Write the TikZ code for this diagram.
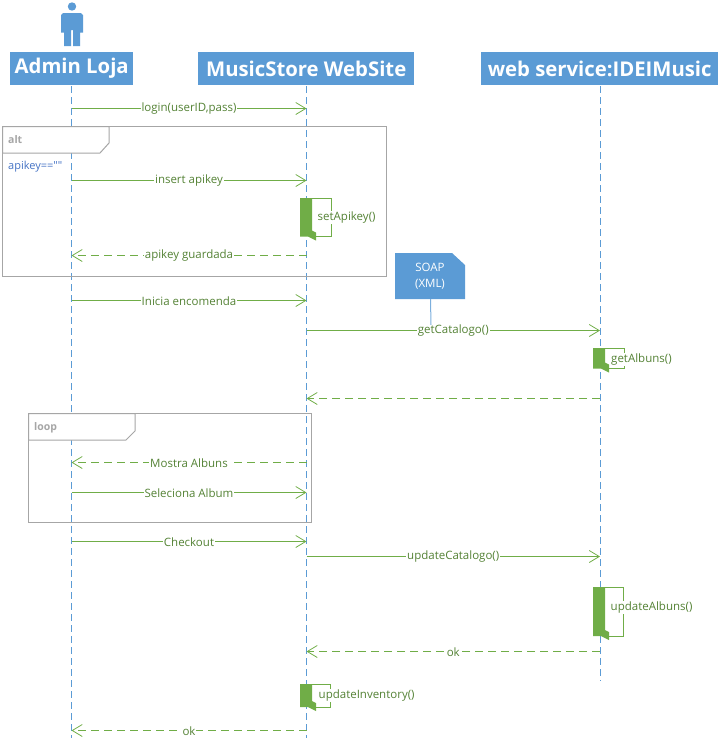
\documentclass[tikz,border=0pt]{standalone}
\usepackage{fontspec}
\setmainfont{Open Sans}
\newfontfamily\rawfont[Ligatures=Discretionary]{Open Sans}
\usetikzlibrary{arrows.meta}
\definecolor{uBlue}{HTML}{5B9BD5}
\definecolor{uGreen}{HTML}{70AD47}
\definecolor{uText}{HTML}{548235}
\definecolor{uFrame}{HTML}{A6A6A6}
\definecolor{uKey}{HTML}{4472C4}
\tikzset{
  head/.style={fill=uBlue,text=white,font=\fontsize{20.3}{24}\selectfont\bfseries,inner sep=0pt,minimum height=33pt,anchor=north west},
  lifeline/.style={draw=uBlue,line width=1pt,dash pattern=on 7pt off 4pt},
  msgline/.style={draw=uGreen,line width=1pt,-{Straight Barb[length=10pt,width=12pt,line width=0.8pt]}},
  retline/.style={msgline,dash pattern=on 8pt off 5pt},
  msglabel/.style={fill=white,text=uText,font=\fontsize{11.5}{13}\selectfont,inner xsep=1pt,inner ysep=0.5pt},
  framebox/.style={draw=uFrame,line width=1pt},
  frametab/.style={draw=uFrame,line width=1pt,fill=white},
  frametext/.style={text=uFrame,font=\fontsize{10.5}{12}\selectfont\bfseries,inner sep=0pt,anchor=west},
  selfline/.style={draw=uGreen,line width=1pt},
  selfbar/.style={fill=uGreen},
  blueshape/.style={fill=uBlue},
}
\newcommand{\mymsg}[6]{% name, x1, x2, y, style, label
  \coordinate (#1a) at (#2,#4);
  \coordinate (#1b) at (#3,#4);
  \draw[#5] (#1a) -- node[msglabel] {#6} (#1b);
}
\newcommand{\myself}[5]{% barx, top, bottom, right, name
  \coordinate (#5a) at ({#1+12},#2);
  \coordinate (#5b) at (#4,#2);
  \coordinate (#5c) at (#4,#3);
  \coordinate (#5d) at ({#1+14},#3);
  \draw[selfline] (#5a) -- (#5b) -- (#5c) -- (#5d);
  \fill[selfbar] (#1,#2) -- ({#1+12},#2) -- ({#1+12},{#3-6}) -- ({#1+16},{#3-4}) -- ({#1+16},{#3+4}) -- ({#1+8},#3) -- (#1,#3) -- cycle;
}
\begin{document}
\begin{tikzpicture}[x=1pt,y=-1pt]
\useasboundingbox (0,0) rectangle (724,745);
% actor
\fill[blueshape] (72,6.5) circle (4.2);
\fill[blueshape] (63,13) -- (81,13) -- (83,15) -- (83,32.5) -- (80,32.5) -- (80,46) -- (73,46) -- (73,30) -- (71,30) -- (71,46) -- (64,46) -- (64,32.5) -- (61,32.5) -- (61,15) -- cycle;
% heads
\node[head,minimum width=123pt] (admin) at (10,52) {Admin Loja};
\node[head,minimum width=216pt] (store) at (198,52) {MusicStore WebSite};
\node[head,minimum width=237pt] (ws) at (481,52) {web service:IDEIMusic};
% lifelines
\coordinate (adminEnd) at (71.5,738);
\coordinate (storeEnd) at (306.5,738);
\coordinate (wsEnd) at (600,681);
\coordinate (adminTop) at (71.5,86);
\coordinate (storeTop) at (306.5,86);
\coordinate (wsTop) at (600,86);
\draw[lifeline] (adminTop) -- (adminEnd);
\draw[lifeline] (storeTop) -- (storeEnd);
\draw[lifeline] (wsTop) -- (wsEnd);
% frames
\draw[framebox] (2.5,126.5) rectangle (386.5,276);
\draw[frametab] (2.5,126.5) -- (109,126.5) -- (109,143) -- (100,153) -- (2.5,153) -- cycle;
\node[frametext] (altlabel) at (8,140) {alt};
\node[text=uKey,font=\rawfont\fontsize{11}{13}\selectfont,inner sep=0pt,anchor=west] (guard) at (8,166.5) {apikey==""};
\draw[framebox] (28.5,413.5) rectangle (311,522);
\draw[frametab] (28.5,413.5) -- (135,413.5) -- (135,431) -- (126,440) -- (28.5,440) -- cycle;
\node[frametext] (looplabel) at (34,428) {loop};
% note
\fill[blueshape] (395,253) -- (452,253) -- (465,265) -- (465,299) -- (395,299) -- cycle;
\node[text=white,font=\fontsize{11.5}{16}\selectfont,align=center,inner sep=0pt] (note) at (430,276.5) {SOAP\\(XML)};
\coordinate (noteFoot) at (430.5,299);
\coordinate (noteEnd) at (431,325);
\draw[draw=uBlue!80,line width=1pt] (noteFoot) -- (noteEnd);
% messages
\begin{scope}[every node/.append style={yshift=-0.5pt}]
\mymsg{a}{71.5}{306.5}{108}{msgline}{login(userID,pass)}
\mymsg{b}{71.5}{306.5}{180}{msgline}{insert apikey}
\mymsg{c}{306.5}{71.5}{255}{retline}{apikey guardada}
\mymsg{d}{71.5}{306.5}{300}{msgline}{Inicia encomenda}
\mymsg{e}{306.5}{600}{330}{msgline}{getCatalogo()}
\coordinate (fa) at (600,398);
\coordinate (fb) at (306.5,398);
\draw[retline] (fa) -- (fb);
\mymsg{g}{306.5}{71.5}{462}{retline}{Mostra Albuns}
\mymsg{h}{71.5}{306.5}{492}{msgline}{Seleciona Album}
\mymsg{i}{71.5}{306.5}{541}{msgline}{Checkout}
\mymsg{j}{306.5}{600}{556}{msgline}{updateCatalogo()}
\mymsg{k}{600}{306.5}{651}{retline}{ok}
\mymsg{l}{306.5}{71.5}{730}{retline}{ok}
\end{scope}
% self messages
\myself{300}{198}{236.5}{331}{sa}
\node[msglabel,anchor=west] (setkey) at (316.5,217.5) {setApikey()};
\myself{593}{348}{368.5}{624}{sb}
\node[msglabel,anchor=west] (getalb) at (610,359.5) {getAlbuns()};
\myself{593}{587}{636}{623.5}{sc}
\node[msglabel,anchor=west] (updalb) at (609.5,607.5) {updateAlbuns()};
\myself{300}{684}{707}{330.5}{sd}
\node[msglabel,anchor=west] (updinv) at (317.5,695.5) {updateInventory()};
\end{tikzpicture}
\end{document}
